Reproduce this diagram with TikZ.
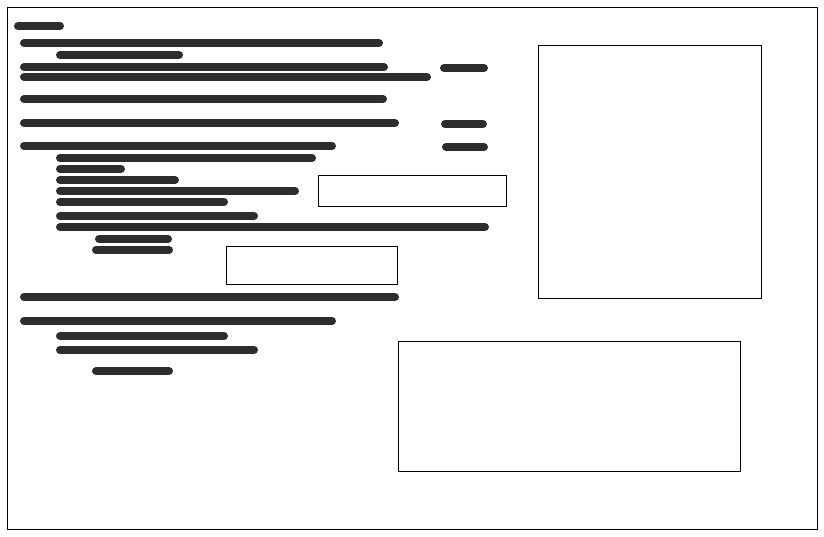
\documentclass[tikz,border=0pt]{standalone}
\definecolor{bar}{HTML}{2D2D2D}
\tikzset{redact/.style={line width=8pt,line cap=round,color=bar},box/.style={draw,line width=0.8pt}}
\begin{document}
\begin{tikzpicture}[x=1pt,y=-1pt]
\useasboundingbox (0,0) rectangle (824,537);
\draw[line width=0.8pt] (7,7) rectangle (817,529);
\foreach \a/\b/\y in {14/64/26,20/383/43,56/183/55,20/388/67,20/431/77,440/488/68,20/387/99,20/399/123,441/487/124,20/336/146,442/488/147,56/316/158,56/125/169,56/179/180,56/299/191,56/228/202,56/258/216,56/489/227,95/172/239,92/173/250,20/399/297,20/336/321,56/228/336,56/258/350,92/173/371}
  \draw[redact] (\a+4,\y) -- (\b-4,\y);
\node[box,inner sep=0,minimum width=223pt,minimum height=253pt,anchor=north west] (r1) at (538,45) {};
\node[box,inner sep=0,minimum width=188pt,minimum height=31pt,anchor=north west] (r2) at (318,175) {};
\node[box,inner sep=0,minimum width=171pt,minimum height=38pt,anchor=north west] (r3) at (226,246) {};
\node[box,inner sep=0,minimum width=342pt,minimum height=130pt,anchor=north west] (r4) at (398,341) {};
\end{tikzpicture}
\end{document}
